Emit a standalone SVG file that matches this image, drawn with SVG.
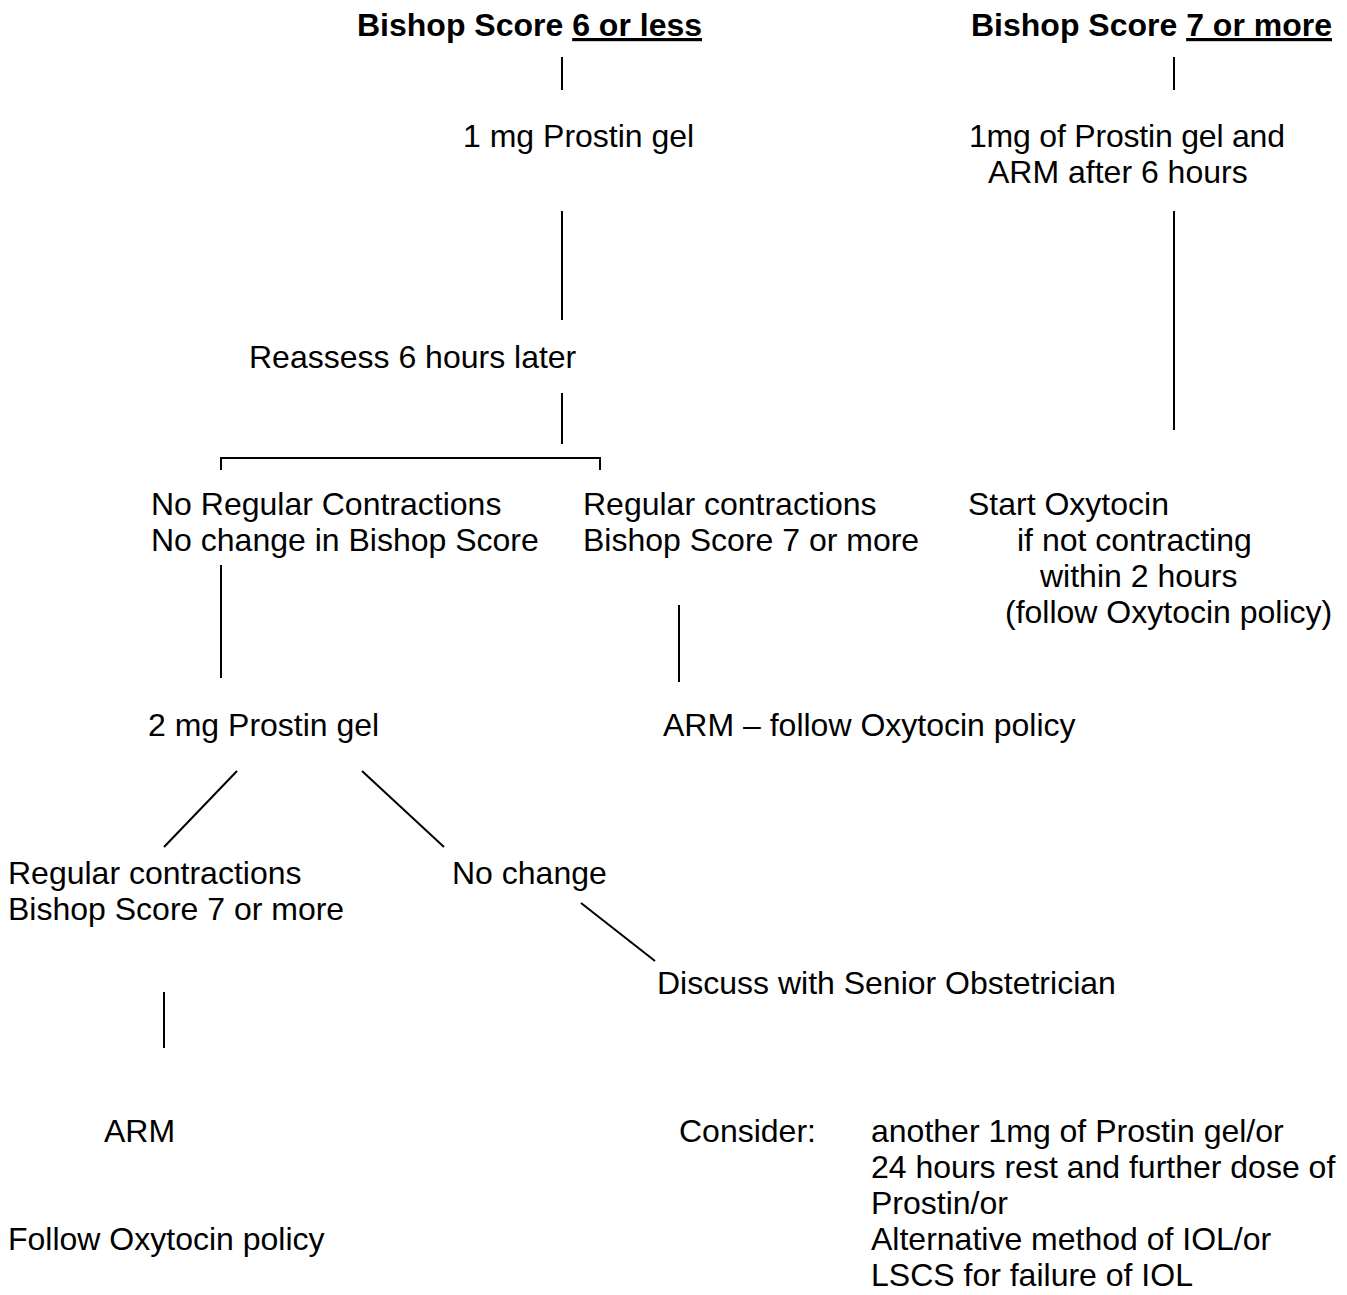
<svg xmlns="http://www.w3.org/2000/svg" width="1347" height="1295" viewBox="0 0 1347 1295">
<style>
text{font-family:"Liberation Sans",Arial,sans-serif;font-size:32px;fill:#000}
.b{font-weight:bold}
.c line,.c path{stroke:#000;stroke-width:2;fill:none}
</style>
<rect width="1347" height="1295" fill="#fff"/>
<g class="c" id="connectors">
<line x1="562" y1="57" x2="562" y2="90"/>
<line x1="1174" y1="57" x2="1174" y2="90"/>
<line x1="562" y1="211" x2="562" y2="320"/>
<line x1="1174" y1="211" x2="1174" y2="430"/>
<line x1="562" y1="393" x2="562" y2="444"/>
<path d="M221,470 V458 H600 V470"/>
<line x1="221" y1="565" x2="221" y2="678"/>
<line x1="679" y1="605" x2="679" y2="682"/>
<line x1="237" y1="771" x2="164" y2="847"/>
<line x1="362" y1="771" x2="444" y2="847"/>
<line x1="581" y1="903" x2="655" y2="961"/>
<line x1="164" y1="992" x2="164" y2="1048"/>
</g>
<g id="title-left"><text class="b" x="357" y="36">Bishop Score <tspan text-decoration="underline">6 or less</tspan></text></g>
<g id="title-right"><text class="b" x="971" y="36">Bishop Score <tspan text-decoration="underline">7 or more</tspan></text></g>
<g id="n1mg"><text x="463" y="147">1 mg Prostin gel</text></g>
<g id="n1mgarm"><text x="969" y="147" textLength="316">1mg of Prostin gel and</text><text x="988" y="183">ARM after 6 hours</text></g>
<g id="reassess"><text x="249" y="368">Reassess 6 hours later</text></g>
<g id="noregular"><text x="151" y="515">No Regular Contractions</text><text x="151" y="551">No change in Bishop Score</text></g>
<g id="regular1"><text x="583" y="515">Regular contractions</text><text x="583" y="551">Bishop Score 7 or more</text></g>
<g id="startoxy"><text x="968" y="515">Start Oxytocin</text><text x="1017" y="551">if not contracting</text><text x="1040" y="587">within 2 hours</text><text x="1005" y="623">(follow Oxytocin policy)</text></g>
<g id="n2mg"><text x="148" y="736">2 mg Prostin gel</text></g>
<g id="armfollow"><text x="663" y="736">ARM – follow Oxytocin policy</text></g>
<g id="regular2"><text x="8" y="884">Regular contractions</text><text x="8" y="920">Bishop Score 7 or more</text></g>
<g id="nochange"><text x="452" y="884">No change</text></g>
<g id="discuss"><text x="657" y="994">Discuss with Senior Obstetrician</text></g>
<g id="arm"><text x="104" y="1142">ARM</text></g>
<g id="follow"><text x="8" y="1250">Follow Oxytocin policy</text></g>
<g id="consider"><text x="679" y="1142">Consider:</text>
<text x="871" y="1142">another 1mg of Prostin gel/or</text>
<text x="871" y="1178">24 hours rest and further dose of</text>
<text x="871" y="1214">Prostin/or</text>
<text x="871" y="1250">Alternative method of IOL/or</text>
<text x="871" y="1286">LSCS for failure of IOL</text></g>
</svg>
